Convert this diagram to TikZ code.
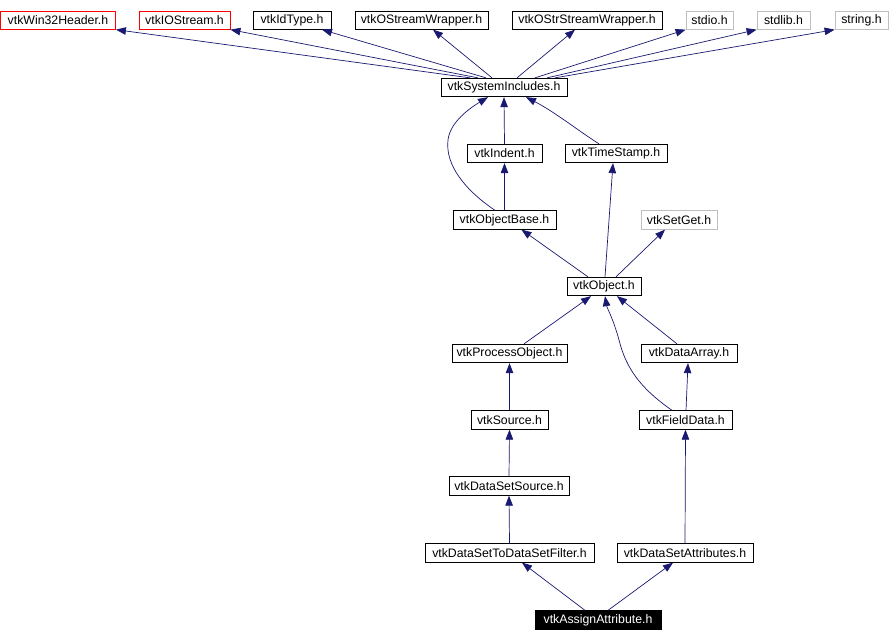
\documentclass[tikz,border=0pt]{standalone}
\usepackage{fontspec}
\setmainfont{Liberation Sans}
\usetikzlibrary{arrows.meta}
\definecolor{edgec}{HTML}{191970}
\definecolor{greyc}{HTML}{BFBFBF}
\tikzset{
  box/.style={draw=black, line width=0.8pt, rectangle, inner sep=0pt, minimum height=18.5pt, font=\fontsize{12.3}{14}\selectfont, fill=white},
  topbox/.style={box, minimum height=17.5pt},
  redbox/.style={topbox, draw=red},
  greybox/.style={box, draw=greyc},
  focusbox/.style={box, fill=black, text=white},
  edge/.style={draw=edgec, line width=0.7pt, -{Triangle[length=10pt,width=7.5pt]}}
}
\begin{document}
\begin{tikzpicture}[x=1pt,y=-1pt]
\useasboundingbox (0,0) rectangle (890,642);
% top row
\node[redbox, minimum width=115pt] (win32) at (58,20.5) {vtkWin32Header.h};
\node[redbox, minimum width=91pt] (ios) at (184.5,20.5) {vtkIOStream.h};
\node[topbox, minimum width=78pt] (idtype) at (292,20.5) {vtkIdType.h};
\node[topbox, minimum width=133pt] (ostream) at (421.5,20.5) {vtkOStreamWrapper.h};
\node[topbox, minimum width=150pt] (ostr) at (587,20.5) {vtkOStrStreamWrapper.h};
\node[topbox, draw=greyc, minimum width=47pt] (stdio) at (709.5,20.5) {stdio.h};
\node[topbox, draw=greyc, minimum width=53pt] (stdlib) at (783.5,20.5) {stdlib.h};
\node[topbox, draw=greyc, minimum width=53pt] (string) at (861.5,20.5) {string.h};
% others
\node[box, minimum width=126pt] (sys) at (504,87.5) {vtkSystemIncludes.h};
\node[box, minimum width=75pt] (indent) at (504.5,153.5) {vtkIndent.h};
\node[box, minimum width=102pt] (timestamp) at (616,153.5) {vtkTimeStamp.h};
\node[box, minimum width=103pt] (objbase) at (504.5,220) {vtkObjectBase.h};
\node[greybox, minimum width=76pt] (setget) at (679,220) {vtkSetGet.h};
\node[box, minimum width=74pt] (object) at (604,286.5) {vtkObject.h};
\node[box, minimum width=115pt] (procobj) at (509.5,353.5) {vtkProcessObject.h};
\node[box, minimum width=96pt] (dataarray) at (689,353.5) {vtkDataArray.h};
\node[box, minimum width=77pt] (source) at (509.5,420) {vtkSource.h};
\node[box, minimum width=93pt] (fielddata) at (685.5,420) {vtkFieldData.h};
\node[box, minimum width=120pt] (dss) at (509,486) {vtkDataSetSource.h};
\node[box, minimum width=169pt] (filter) at (509.5,553) {vtkDataSetToDataSetFilter.h};
\node[box, minimum width=136pt] (dsattr) at (685,553) {vtkDataSetAttributes.h};
\node[focusbox, minimum width=126pt] (assign) at (598,620) {vtkAssignAttribute.h};
% edges from sys to top row
\draw[edge] ([xshift=-34pt]sys.north) -- (win32.south east);
\draw[edge] ([xshift=-26pt]sys.north) -- (ios.south east);
\draw[edge] ([xshift=-18pt]sys.north) -- ([xshift=30pt]idtype.south);
\draw[edge] ([xshift=-12pt]sys.north) -- ([xshift=11.5pt]ostream.south);
\draw[edge] ([xshift=13pt]sys.north) -- ([xshift=-12pt]ostr.south);
\draw[edge] ([xshift=31pt]sys.north) -- (stdio.south west);
\draw[edge] ([xshift=43pt]sys.north) -- (stdlib.south west);
\draw[edge] ([xshift=51pt]sys.north) -- (string.south west);
% middle
\draw[edge] (indent.north) -- (sys.south);
\draw[edge] ([xshift=-17pt]timestamp.north) .. controls (580,132) and (555,112) .. ([xshift=22pt]sys.south);
\draw[edge] ([xshift=-9.5pt]objbase.north) .. controls (465,190) and (445,165) .. (448,140) .. controls (450,122) and (470,108) .. ([xshift=-16pt]sys.south);
\draw[edge] (objbase.north) -- (indent.south);
\draw[edge] ([xshift=-16pt]object.north) -- ([xshift=17pt]objbase.south);
\draw[edge] ([xshift=1pt]object.north) -- ([xshift=-3pt]timestamp.south);
\draw[edge] ([xshift=12pt]object.north) -- ([xshift=-14pt]setget.south);
% lower
\draw[edge] ([xshift=14.5pt]procobj.north) -- ([xshift=-13pt]object.south);
\draw[edge] ([xshift=-13.5pt]fielddata.north) .. controls (640,388) and (626,368) .. (619,340) .. controls (613,318) and (607,308) .. ([xshift=1pt]object.south);
\draw[edge] ([xshift=-12pt]dataarray.north) -- ([xshift=13pt]object.south);
\draw[edge] ([xshift=0.5pt]fielddata.north) -- ([xshift=-1pt]dataarray.south);
\draw[edge] (source.north) -- (procobj.south);
\draw[edge] (dss.north) -- (source.south);
\draw[edge] (filter.north) -- (dss.south);
\draw[edge] (dsattr.north) -- (fielddata.south);
\draw[edge] ([xshift=-13pt]assign.north) -- ([xshift=12.5pt]filter.south);
\draw[edge] ([xshift=10pt]assign.north) -- ([xshift=-12pt]dsattr.south);
\end{tikzpicture}
\end{document}
